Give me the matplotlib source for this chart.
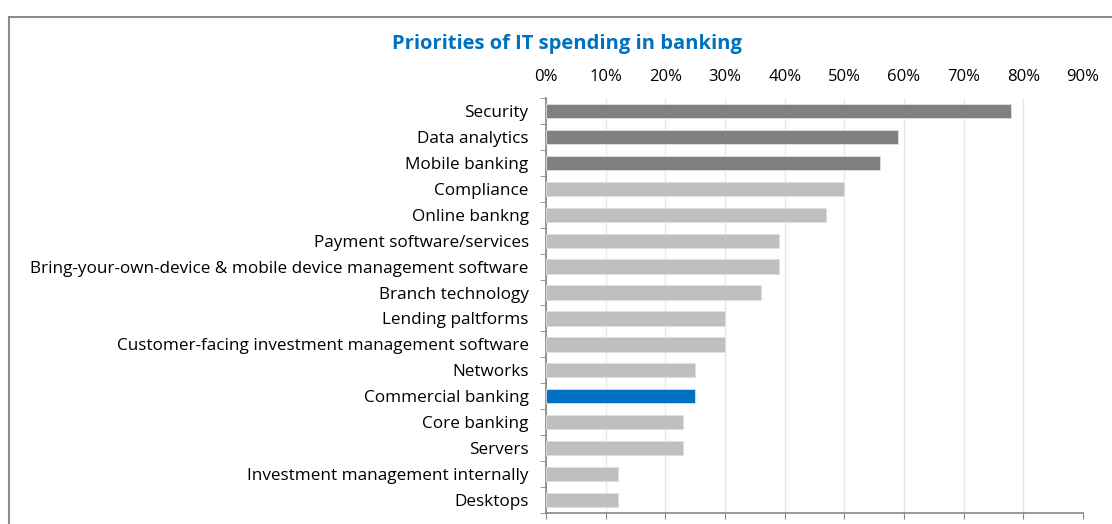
import matplotlib.pyplot as plt
from matplotlib.patches import Rectangle
from matplotlib.ticker import PercentFormatter

categories = ["Security", "Data analytics", "Mobile banking", "Compliance", "Online bankng",
              "Payment software/services",
              "Bring-your-own-device & mobile device management software",
              "Branch technology", "Lending paltforms",
              "Customer-facing investment management software", "Networks",
              "Commercial banking", "Core banking", "Servers",
              "Investment management internally", "Desktops"]
values = [78, 59, 56, 50, 47, 39, 39, 36, 30, 30, 25, 25, 23, 23, 12, 12]
groups = ["top", "top", "top"] + ["other"] * 8 + ["highlight"] + ["other"] * 4
xticks = [0, 10, 20, 30, 40, 50, 60, 70, 80, 90]

palette = {"top": "#808080", "other": "#bfbfbf", "highlight": "#0070c0"}
colors = [palette[g] for g in groups]

plt.rcParams['font.family'] = ['Open Sans', 'DejaVu Sans']

fig = plt.figure(figsize=(11.12, 5.24), dpi=100)
ax = fig.add_axes([0.491, 0.021, 0.483, 0.792])

y = list(range(len(categories)))
ax.barh(y, values, height=0.55, color=colors, edgecolor="#e0e0e0", linewidth=0.6, zorder=3)
ax.set_ylim(len(categories) - 0.5, -0.5)
ax.set_xlim(0, 90)

ax.set_xticks(xticks)
ax.xaxis.set_major_formatter(PercentFormatter(decimals=0))
ax.tick_params(axis="x", which="major", top=False, labeltop=True, bottom=True, labelbottom=False,
               direction="out", length=4, color="#868686", labelsize=12, pad=5)
ax.grid(axis="x", color="#e8e8e8", linewidth=1, zorder=0)

ax.set_yticks(y)
ax.set_yticklabels(categories, fontsize=12.3)
ax.set_yticks([i - 0.5 for i in range(len(categories) + 1)], minor=True)
ax.tick_params(axis="y", which="major", length=0, pad=12.5)
ax.tick_params(axis="y", which="minor", length=4, color="#868686", direction="out")

for s in ["top", "right"]:
    ax.spines[s].set_visible(False)
for s in ["left", "bottom"]:
    ax.spines[s].set_color("#868686")
    ax.spines[s].set_linewidth(1.2)

fig.text(0.510, 0.916, "Priorities of IT spending in banking", ha="center", va="center",
         fontsize=14.5, fontweight="bold", color="#0070c0")

fig.patches.append(Rectangle((9 / 1112, -0.2), 1.2, 1 - 17 / 524 + 0.2, transform=fig.transFigure,
                             fill=False, edgecolor="#8c8c8c", linewidth=1.5))

fig.savefig("out.png", dpi=100)
